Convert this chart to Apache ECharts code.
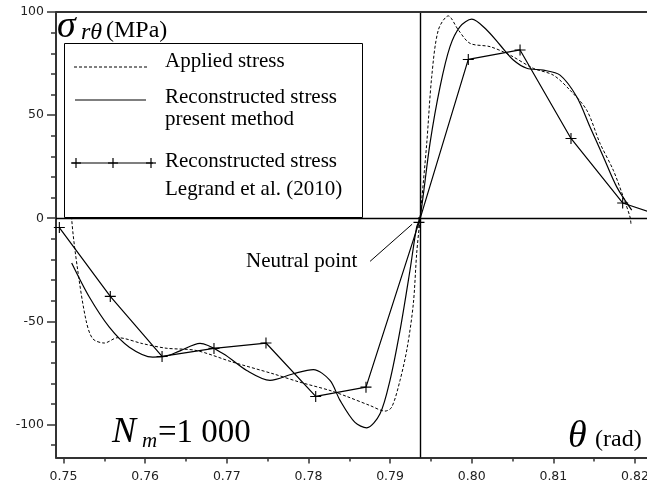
<!DOCTYPE html>
<html><head><meta charset="utf-8">
<script src="https://cdn.jsdelivr.net/npm/echarts@6/dist/echarts.min.js"></script>
<style>html,body{margin:0;padding:0;background:#fff;overflow:hidden}#c{width:647px;height:488px}</style>
</head><body><div id="c"></div>
<script>
// ---- data ----
const xLabelValues = [0.75, 0.76, 0.77, 0.78, 0.79, 0.80, 0.81, 0.82];
const xTickValues = [0.755, 0.765, 0.775, 0.785, 0.795, 0.805, 0.815];
const yLabelValues = [-100, -50, 0, 50, 100];
const yTickValues = [-110, -90, -80, -70, -60, -40, -30, -20, -10, 10, 20, 30, 40, 60, 70, 80, 90];

const appliedTheta = [0.75080, 0.75100, 0.75174, 0.75276, 0.75358, 0.75500, 0.75664, 0.75970, 0.76256, 0.76623, 0.77076, 0.77566, 0.77897, 0.78264, 0.78469, 0.78754, 0.78938, 0.79020, 0.79122, 0.79211, 0.79285, 0.79326, 0.79367, 0.79449, 0.79510, 0.79591, 0.79713, 0.79836, 0.79979, 0.80224, 0.80469, 0.80754, 0.80999, 0.81204, 0.81409, 0.81572, 0.81734, 0.81857, 0.81939, 0.81951];
const appliedStress = [30, -0.1, -25.2, -49.5, -58.4, -60.5, -57.9, -60.8, -63.0, -64.1, -69.8, -75.4, -79.5, -83.5, -86.4, -90.8, -93.5, -91.6, -78.6, -62.5, -41.4, -17.0, 0, 36.3, 68.6, 91.3, 98.1, 91.3, 84.8, 83.2, 79.1, 72.7, 69.4, 62.1, 52.4, 36.3, 23.3, 10.3, 0.6, -2.9];

const presentTheta = [0.75100, 0.75316, 0.75561, 0.75806, 0.76093, 0.76243, 0.76427, 0.76672, 0.76957, 0.77244, 0.77529, 0.77815, 0.78060, 0.78264, 0.78387, 0.78570, 0.78714, 0.78877, 0.78999, 0.79122, 0.79244, 0.79326, 0.79367, 0.79489, 0.79612, 0.79734, 0.79857, 0.80000, 0.80184, 0.80347, 0.80510, 0.80674, 0.80877, 0.81082, 0.81286, 0.81449, 0.81612, 0.81776, 0.81960];
const presentStress = [-21.7, -38.2, -52.8, -62.5, -67.3, -67.0, -64.3, -60.7, -65.7, -73.8, -78.6, -75.4, -73.4, -78.6, -88.3, -99.0, -101.6, -94.8, -78.6, -54.4, -25.2, -4.2, 0, 36.3, 63.7, 83.2, 92.9, 96.5, 91.3, 84.0, 76.7, 72.7, 71.8, 69.4, 58.9, 44.3, 29.8, 15.2, 3.9];

const legrandTheta = [0.74949, 0.75573, 0.76207, 0.76843, 0.77480, 0.78089, 0.78705, 0.79354, 0.79958, 0.80592, 0.81216, 0.81849, 0.82480];
const legrandStress = [-4.5, -37.9, -67.0, -63.1, -60.5, -86.4, -81.9, -2.0, 77.0, 81.6, 38.7, 7.4, -1.0];

const neutralTheta = 0.79367;
const pointerFrom = [0.78755, -20.9];
const pointerTo = [0.79270, -2.9];

const legendLines = ['Applied stress', 'Reconstructed stress', 'present method', 'Reconstructed stress', 'Legrand et al. (2010)'];

// ---- chart ----
const X_MIN = 0.74908, X_MAX = 0.82147, Y_MIN = -116, Y_MAX = 100;
const zip = (a, b) => a.map((v, i) => [v, b[i]]);
const chart = echarts.init(document.getElementById('c'), null, {renderer: 'canvas', width: 647, height: 488});
const axisFont = {fontFamily: 'DejaVu Sans', fontSize: 12.5, color: '#222'};
const crossSym = 'path://M0,4.5h10v1h-10zM4.5,0h1v10h-1z';

const graphics = [
  {type: 'rect', z: 100, shape: {x: 64.5, y: 43.5, width: 298, height: 174}, style: {fill: '#fff', stroke: '#000', lineWidth: 1}},
  {type: 'line', z: 101, shape: {x1: 74, y1: 67, x2: 148, y2: 67}, style: {stroke: '#000', lineWidth: 1, lineDash: [3, 2]}},
  {type: 'line', z: 101, shape: {x1: 75, y1: 100, x2: 146, y2: 100}, style: {stroke: '#000', lineWidth: 1.2}},
  {type: 'line', z: 101, shape: {x1: 72, y1: 163, x2: 153, y2: 163}, style: {stroke: '#000', lineWidth: 1.2}},
];
[76, 113, 151].forEach(cx => {
  graphics.push({type: 'line', z: 101, shape: {x1: cx - 5, y1: 163, x2: cx + 5, y2: 163}, style: {stroke: '#000', lineWidth: 1.2}});
  graphics.push({type: 'line', z: 101, shape: {x1: cx, y1: 158, x2: cx, y2: 168}, style: {stroke: '#000', lineWidth: 1.2}});
});
const legendTextY = [61, 97, 119, 161, 189];
legendLines.forEach((n, i) => {
  graphics.push({type: 'text', z: 101, style: {x: 165, y: legendTextY[i], text: n, font: '21px "Liberation Serif"', fill: '#000', verticalAlign: 'middle'}});
});
const T = (x, y, text, font) => graphics.push({type: 'text', z: 101, style: {x, y, text, font, fill: '#000', verticalAlign: 'middle'}});
T(57, 27, 'σ', 'italic 38px "Liberation Serif"');
T(81, 33, 'rθ', 'italic 24px "Liberation Serif"');
T(106, 31, '(MPa)', '24px "Liberation Serif"');
T(246, 261, 'Neutral point', '21px "Liberation Serif"');
T(112, 433, 'N', 'italic 36px "Liberation Serif"');
T(142, 441, 'm', 'italic 21px "Liberation Serif"');
T(158, 433, '=1 000', '33px "Liberation Serif"');
T(568, 437, 'θ', 'italic 38px "Liberation Serif"');
T(595, 440, '(rad)', '24px "Liberation Serif"');

const lineCol = '#333';
chart.setOption({
  animation: false,
  backgroundColor: '#fff',
  grid: {left: 56, top: 12, right: 0, bottom: 30.5, outerBoundsMode: 'none', containLabel: false},
  xAxis: [{
    type: 'value', min: X_MIN, max: X_MAX,
    splitLine: {show: false},
    axisLine: {onZero: false, lineStyle: {color: lineCol, width: 2}},
    axisTick: {show: true, length: 6, customValues: xLabelValues, lineStyle: {color: lineCol, width: 1.5}},
    axisLabel: Object.assign({customValues: xLabelValues, margin: 13, formatter: v => v.toFixed(2)}, axisFont)
  }, {
    type: 'value', min: X_MIN, max: X_MAX, position: 'bottom',
    splitLine: {show: false},
    axisLine: {show: false, onZero: false},
    axisTick: {show: true, length: 4, customValues: xTickValues, lineStyle: {color: lineCol, width: 1.5}},
    axisLabel: {show: false}
  }],
  yAxis: [{
    type: 'value', min: Y_MIN, max: Y_MAX,
    splitLine: {show: false},
    axisLine: {onZero: false, lineStyle: {color: lineCol, width: 2}},
    axisTick: {show: true, length: 9, customValues: yLabelValues, lineStyle: {color: lineCol, width: 1.5}},
    axisLabel: Object.assign({customValues: yLabelValues, margin: 12, formatter: v => String(v)}, axisFont)
  }, {
    type: 'value', min: Y_MIN, max: Y_MAX, position: 'left',
    splitLine: {show: false},
    axisLine: {show: false, onZero: false},
    axisTick: {show: true, length: 5, customValues: yTickValues, lineStyle: {color: lineCol, width: 1.5}},
    axisLabel: {show: false}
  }],
  graphic: graphics,
  series: [
    {
      name: 'Applied stress', type: 'line', data: zip(appliedTheta, appliedStress),
      smooth: 0.3, showSymbol: false, symbol: 'none',
      lineStyle: {color: '#000', width: 1, type: [3, 2]},
      markLine: {
        silent: true, symbol: 'none', label: {show: false},
        data: [
          [{coord: [neutralTheta, Y_MIN], lineStyle: {color: '#000', width: 1.4, type: 'solid'}}, {coord: [neutralTheta, Y_MAX]}],
          [{coord: [X_MIN, 0], lineStyle: {color: '#000', width: 1.4, type: 'solid'}}, {coord: [X_MAX, 0]}],
          [{coord: [X_MIN, Y_MAX], lineStyle: {color: lineCol, width: 2, type: 'solid'}}, {coord: [X_MAX, Y_MAX]}],
          [{coord: pointerFrom, lineStyle: {color: '#000', width: 1, type: 'solid'}}, {coord: pointerTo}]
        ]
      }
    },
    {
      name: 'Reconstructed stress present method', type: 'line', data: zip(presentTheta, presentStress),
      smooth: 0.3, showSymbol: false, symbol: 'none',
      lineStyle: {color: '#000', width: 1.2}
    },
    {
      name: 'Reconstructed stress Legrand et al. (2010)', type: 'line', data: zip(legrandTheta, legrandStress),
      symbol: crossSym, symbolSize: 11, showSymbol: true,
      itemStyle: {color: '#000'},
      lineStyle: {color: '#000', width: 1.2}
    }
  ]
});
</script>
</body></html>
